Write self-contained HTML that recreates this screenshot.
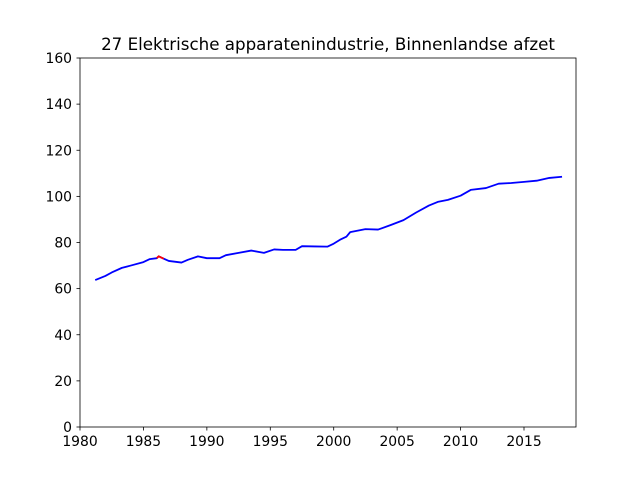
<!DOCTYPE html>
<html><head><meta charset="utf-8"><style>
body{margin:0;background:#fff}
svg text{font-family:"DejaVu Sans","Liberation Sans",sans-serif;font-size:13.9px;fill:#000}
</style></head><body>
<svg id="c" width="640" height="480">
<rect width="640" height="480" fill="#fff"/>
<text x="328" y="50" text-anchor="middle" style="font-size:16.7px">27 Elektrische apparatenindustrie, Binnenlandse afzet</text>
<g id="plot"></g>
<rect x="80" y="58" width="496" height="369" fill="none" stroke="#000" stroke-width="0.8"/>
</svg>
<script>
const years=[1981.2,1982,1982.5,1983.3,1984,1985,1985.5,1986.05,1986.2,1986.6,1987,1988,1988.5,1989.3,1990,1991,1991.5,1992.5,1993.5,1994.5,1995.3,1996,1997,1997.5,1998.5,1999.5,2000,2000.5,2001,2001.3,2002.5,2003.5,2004.5,2005.5,2006.5,2007.5,2008.2,2009,2010,2010.8,2012,2013,2014,2015,2016,2017,2018];
const values=[63.7,65.5,67,69,70,71.5,72.8,73.2,74,73,72,71.3,72.5,74,73.2,73.2,74.5,75.5,76.5,75.5,77,76.8,76.8,78.4,78.3,78.2,79.5,81.2,82.5,84.5,85.8,85.6,87.6,89.7,93,96,97.6,98.5,100.3,102.8,103.6,105.5,105.8,106.3,106.8,108,108.5];
const redYears=[1986.05,1986.2,1986.6];
const redValues=[73.2,74,73];
const xTicks=[1980,1985,1990,1995,2000,2005,2010,2015];
const yTicks=[0,20,40,60,80,100,120,140,160];
const X=v=>80+(v-1980)*(524-80)/35;
const Y=v=>427-v*369/160;
const g=document.getElementById('plot');
const NS='http://www.w3.org/2000/svg';
function mk(t,a){const e=document.createElementNS(NS,t);for(const k in a)e.setAttribute(k,a[k]);g.appendChild(e);return e;}
xTicks.forEach(t=>{
 const l=mk('line',{x1:X(t),x2:X(t),y1:427,y2:430.5,stroke:'#000','stroke-width':0.8});
 
 
 const s=mk('text',{x:X(t),y:446,'text-anchor':'middle'});s.textContent=t;
 
 
});
yTicks.forEach(t=>{
 const l=mk('line',{x1:76.5,x2:80,y1:Y(t),y2:Y(t),stroke:'#000','stroke-width':0.8});
 
 
 const s=mk('text',{x:72,y:Y(t)+5,'text-anchor':'end'});s.textContent=t;
 
 
});
const p=mk('polyline',{points:years.map((y,i)=>X(y)+','+Y(values[i])).join(' '),fill:'none',stroke:'#0000ff','stroke-width':1.8,'stroke-linejoin':'round'});


const r=mk('polyline',{points:redYears.map((y,i)=>X(y)+','+Y(redValues[i])).join(' '),fill:'none',stroke:'#ff0000','stroke-width':1.8});


</script>
</body></html>
